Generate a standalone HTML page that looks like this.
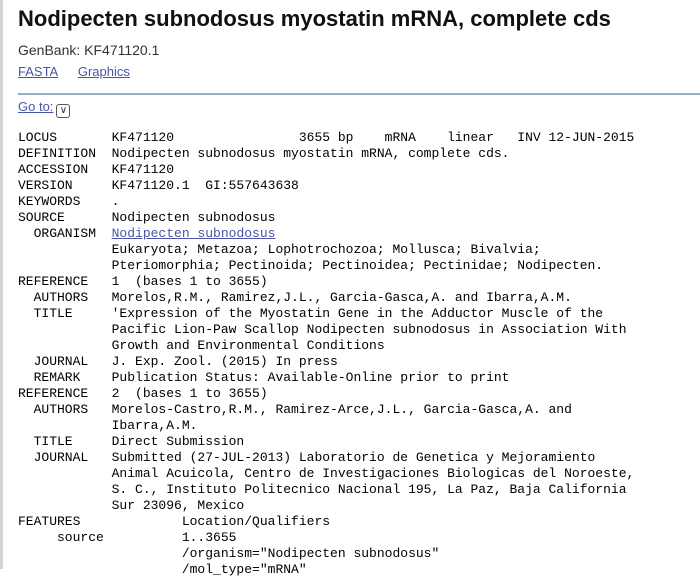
<!DOCTYPE html>
<html><head><meta charset="utf-8"><style>
body{margin:0;width:700px;height:569px;overflow:hidden;background:#fff;font-family:"Liberation Sans",Arial,sans-serif;}
#left{position:absolute;left:0;top:0;width:3px;height:569px;background:#d4d4d4;}
h1{position:absolute;left:18px;top:6px;margin:0;font-size:22px;font-weight:bold;color:#111;white-space:nowrap;}
#gb{position:absolute;left:18px;top:42px;font-size:14px;color:#333;}
#links{position:absolute;left:18px;top:64px;font-size:13px;}
a{color:#4b55a8;text-decoration:underline;}
#links a{margin-right:16px;}
#hr{position:absolute;left:18px;right:0;top:93px;height:2px;background:#97b0c8;}
#goto{position:absolute;left:18px;top:99px;font-size:13px;}
#gobox{display:inline-block;width:12px;height:12px;border:1px solid #555;border-radius:3px;font-size:10px;line-height:12px;text-align:center;vertical-align:-2px;margin-left:3px;color:#333;}
pre{position:absolute;left:18px;top:130px;margin:0;font-family:"Liberation Mono","Courier New",monospace;font-size:13px;line-height:16px;color:#000;}
pre a{color:#4b55a8;}
</style></head><body>
<div id="left"></div>
<h1>Nodipecten subnodosus myostatin mRNA, complete cds</h1>
<div id="gb">GenBank: KF471120.1</div>
<div id="links"><a href="#">FASTA</a> <a href="#">Graphics</a></div>
<div id="hr"></div>
<div id="goto"><a href="#">Go to:</a><span id="gobox">&#8744;</span></div>
<pre>LOCUS       KF471120                3655 bp    mRNA    linear   INV 12-JUN-2015
DEFINITION  Nodipecten subnodosus myostatin mRNA, complete cds.
ACCESSION   KF471120
VERSION     KF471120.1  GI:557643638
KEYWORDS    .
SOURCE      Nodipecten subnodosus
  ORGANISM  <a href="#">Nodipecten subnodosus</a>
            Eukaryota; Metazoa; Lophotrochozoa; Mollusca; Bivalvia;
            Pteriomorphia; Pectinoida; Pectinoidea; Pectinidae; Nodipecten.
REFERENCE   1  (bases 1 to 3655)
  AUTHORS   Morelos,R.M., Ramirez,J.L., Garcia-Gasca,A. and Ibarra,A.M.
  TITLE     'Expression of the Myostatin Gene in the Adductor Muscle of the
            Pacific Lion-Paw Scallop Nodipecten subnodosus in Association With
            Growth and Environmental Conditions
  JOURNAL   J. Exp. Zool. (2015) In press
  REMARK    Publication Status: Available-Online prior to print
REFERENCE   2  (bases 1 to 3655)
  AUTHORS   Morelos-Castro,R.M., Ramirez-Arce,J.L., Garcia-Gasca,A. and
            Ibarra,A.M.
  TITLE     Direct Submission
  JOURNAL   Submitted (27-JUL-2013) Laboratorio de Genetica y Mejoramiento
            Animal Acuicola, Centro de Investigaciones Biologicas del Noroeste,
            S. C., Instituto Politecnico Nacional 195, La Paz, Baja California
            Sur 23096, Mexico
FEATURES             Location/Qualifiers
     source          1..3655
                     /organism="Nodipecten subnodosus"
                     /mol_type="mRNA"</pre>
</body></html>
